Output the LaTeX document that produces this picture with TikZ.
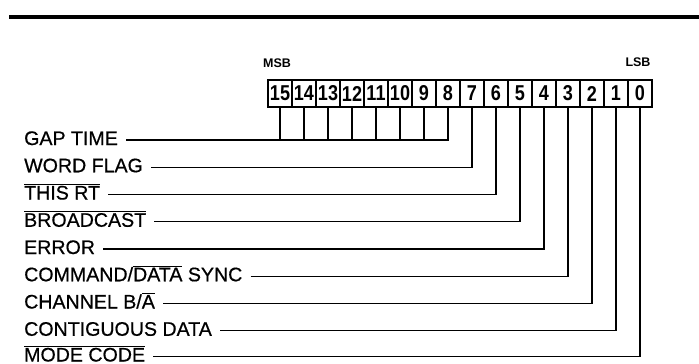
\documentclass[tikz,border=0pt]{standalone}
\usepackage{fontspec}
\usepackage{graphicx}
\setmainfont{Liberation Sans}
\newfontfamily\medfont[FakeBold=0.6]{Liberation Sans}
\newsavebox\ovlbox
\newcommand\ovl[1]{\sbox\ovlbox{#1}\rlap{\rule[\dimexpr\ht\ovlbox+0.6pt\relax]{\wd\ovlbox}{1.6pt}}\usebox\ovlbox}
\newcommand\dg[1]{\scalebox{0.84}[1]{#1}}
\begin{document}
\begin{tikzpicture}[x=1pt,y=-1pt,
  bitcell/.style={draw,line width=1.3pt,minimum width=24pt,minimum height=27pt,inner sep=0pt,font=\bfseries\fontsize{21.5}{22}\selectfont},
  lbl/.style={anchor=west,inner xsep=8pt,inner ysep=0pt,text height=10pt,text depth=0pt,font=\medfont\fontsize{19.6}{20}\selectfont},
  conn/.style={line width=1.4pt},
  sb/.style={anchor=base,inner sep=0pt,font=\bfseries\fontsize{12.5}{13}\selectfont}]
\useasboundingbox (0,0) rectangle (699,364);
\draw[line width=3.5pt] (9,17) -- (699,17);
\foreach \b in {0,...,15} \node[bitcell] (b\b) at ({280+24*(15-\b)},93.5) {\dg{\b}};
\node[sb] (msb) at (277,67) {MSB};
\node[sb] (lsb) at (638,66) {LSB};
\node[lbl] (gap) at (16,140) {GAP TIME};
\node[lbl] (wf) at (16,167.25) {WORD FLAG};
\node[lbl] (rt) at (16,194.5) {\ovl{THIS RT}};
\node[lbl] (bc) at (16,221.75) {\ovl{BROADCAST}};
\node[lbl] (err) at (16,249) {ERROR};
\node[lbl] (cds) at (16,276.25) {COMMAND/\ovl{DATA} SYNC};
\node[lbl] (ch) at (16,303.5) {CHANNEL B/\ovl{A}};
\node[lbl] (cd) at (16,330.75) {CONTIGUOUS DATA};
\node[lbl] (mc) at (16,356.5) {\ovl{MODE CODE}};
\draw[conn] (gap.east) -| (b8.south);
\foreach \b in {9,...,15} \draw[conn] (b\b.south) -- (b\b.south |- gap.east);
\draw[conn] (wf.east) -| (b7.south);
\draw[conn] (rt.east) -| (b6.south);
\draw[conn] (bc.east) -| (b5.south);
\draw[conn] (err.east) -| (b4.south);
\draw[conn] (cds.east) -| (b3.south);
\draw[conn] (ch.east) -| (b2.south);
\draw[conn] (cd.east) -| (b1.south);
\draw[conn] (mc.east) -| (b0.south);
\end{tikzpicture}
\end{document}
